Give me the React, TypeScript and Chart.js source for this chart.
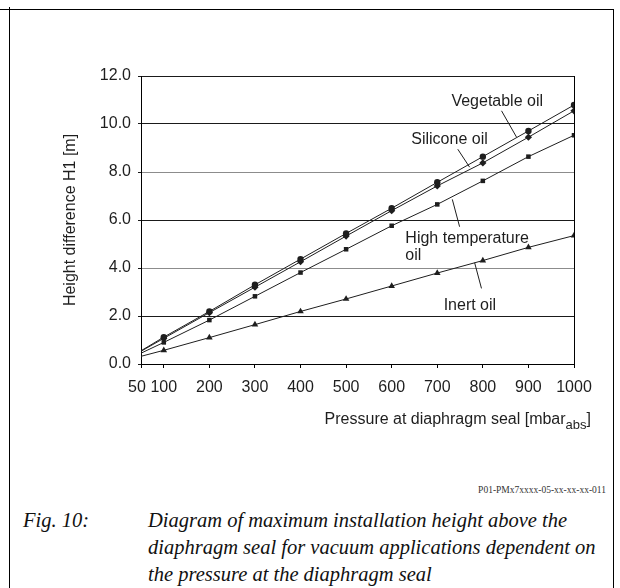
import React, { useEffect, useRef } from "react";
import { Chart, registerables } from "chart.js";

Chart.register(...registerables);

// ---- data ----
const PRESSURE = [50, 100, 200, 300, 400, 500, 600, 700, 800, 900, 1000];
const VEGETABLE_OIL = [0.55, 1.12, 2.19, 3.3, 4.37, 5.44, 6.49, 7.57, 8.64, 9.71, 10.79];
const SILICONE_OIL = [0.53, 1.07, 2.14, 3.2, 4.26, 5.33, 6.39, 7.42, 8.38, 9.45, 10.55];
const HIGH_TEMP_OIL = [0.45, 0.9, 1.83, 2.82, 3.81, 4.78, 5.76, 6.65, 7.63, 8.64, 9.53];
const INERT_OIL = [0.32, 0.57, 1.1, 1.64, 2.19, 2.71, 3.25, 3.79, 4.31, 4.86, 5.35];
const X_TICKS = [50, 100, 200, 300, 400, 500, 600, 700, 800, 900, 1000];
const Y_TICKS = [0, 2, 4, 6, 8, 10, 12];

const Y_TITLE = "Height difference H1 [m]";
const X_TITLE_MAIN = "Pressure at diaphragm seal [mbar";
const X_TITLE_SUB = "abs";
const X_TITLE_END = "]";

// series labels placed in data coordinates
const LABELS = [
  { text: "Vegetable oil", x: 731, y: 10.93 },
  { text: "Silicone oil", x: 643, y: 9.33 },
  { text: "High temperature", x: 630, y: 5.21 },
  { text: "oil", x: 630, y: 4.5 },
  { text: "Inert oil", x: 714, y: 2.42 },
];
const LEADERS = [
  [841, 10.55, 874, 9.45],
  [745, 8.95, 771, 8.2],
  [733, 6.86, 749, 5.72],
  [782, 4.22, 797, 3.15],
];

const SANS = '"Liberation Sans", Arial, Helvetica, sans-serif';
const INK = "#1e1e1e";
const FS = 16;

const toPoints = (ys: number[]) => PRESSURE.map((x, i) => ({ x, y: ys[i] }));

const overlayPlugin = {
  id: "overlay",
  afterDraw(chart: any) {
    const { ctx, chartArea, scales } = chart;
    const xs = scales.x;
    const ys = scales.y;
    ctx.save();
    // right frame of plot
    ctx.strokeStyle = "#000";
    ctx.lineWidth = 1;
    const rx = Math.round(chartArea.right) + 0.5;
    ctx.beginPath();
    ctx.moveTo(rx, chartArea.top);
    ctx.lineTo(rx, chartArea.bottom);
    ctx.stroke();

    // leader lines
    ctx.strokeStyle = INK;
    for (const [x1, y1, x2, y2] of LEADERS) {
      ctx.beginPath();
      ctx.moveTo(xs.getPixelForValue(x1), ys.getPixelForValue(y1));
      ctx.lineTo(xs.getPixelForValue(x2), ys.getPixelForValue(y2));
      ctx.stroke();
    }

    // series labels
    ctx.font = `${FS}px ${SANS}`;
    ctx.fillStyle = INK;
    ctx.textAlign = "left";
    ctx.textBaseline = "middle";
    for (const l of LABELS) {
      ctx.fillText(l.text, xs.getPixelForValue(l.x), ys.getPixelForValue(l.y));
    }

    // x title with subscript, right-aligned
    const mainFont = `${FS}px ${SANS}`;
    const subFont = `13px ${SANS}`;
    ctx.font = mainFont;
    const w1 = ctx.measureText(X_TITLE_MAIN).width;
    const w3 = ctx.measureText(X_TITLE_END).width;
    ctx.font = subFont;
    const w2 = ctx.measureText(X_TITLE_SUB).width;
    const right = chartArea.right + 17;
    const cy = chartArea.bottom + 56;
    let sx = right - (w1 + w2 + w3);
    ctx.font = mainFont;
    ctx.fillText(X_TITLE_MAIN, sx, cy);
    sx += w1;
    ctx.font = subFont;
    ctx.fillText(X_TITLE_SUB, sx, cy + 5);
    sx += w2;
    ctx.font = mainFont;
    ctx.fillText(X_TITLE_END, sx, cy);
    ctx.restore();
  },
};

function HeightChart() {
  const ref = useRef<HTMLCanvasElement | null>(null);
  useEffect(() => {
    if (!ref.current) return;
    const common = {
      borderColor: INK,
      borderWidth: 1,
      pointBackgroundColor: INK,
      pointBorderColor: INK,
      pointBorderWidth: 0,
      tension: 0,
      fill: false,
    };
    const radius = (r: number) => (c: any) => (c.dataIndex === 0 ? 0 : r);
    const chart = new Chart(ref.current, {
      type: "line",
      data: {
        datasets: [
          { ...common, label: "Vegetable oil", data: toPoints(VEGETABLE_OIL), pointStyle: "circle", pointRadius: radius(3.2) },
          { ...common, label: "Silicone oil", data: toPoints(SILICONE_OIL), pointStyle: "rectRot", pointRadius: radius(3.6) },
          { ...common, label: "High temperature oil", data: toPoints(HIGH_TEMP_OIL), pointStyle: "rect", pointRadius: radius(3.2) },
          { ...common, label: "Inert oil", data: toPoints(INERT_OIL), pointStyle: "triangle", pointRadius: radius(3.8) },
        ],
      },
      options: {
        animation: false,
        responsive: false,
        events: [],
        layout: { padding: { left: 0, right: 46, top: 76, bottom: 0 } },
        plugins: { legend: { display: false }, tooltip: { enabled: false } },
        scales: {
          x: {
            type: "linear",
            min: 50,
            max: 1000,
            afterBuildTicks: (s: any) => {
              s.ticks = X_TICKS.map((v) => ({ value: v }));
            },
            afterFit: (s: any) => {
              s.height = 106;
            },
            grid: { drawOnChartArea: false, drawTicks: true, tickLength: 4, color: "#000", tickColor: "#000" },
            border: { display: true, color: "#000", width: 1 },
            ticks: {
              font: { family: SANS, size: FS },
              color: INK,
              padding: 10,
              maxRotation: 0,
              autoSkip: false,
              callback: (v: any) => (Number(v) === X_TICKS[0] ? `${v}\u2002` : String(v)),
            },
          },
          y: {
            type: "linear",
            min: 0,
            max: 12,
            afterBuildTicks: (s: any) => {
              s.ticks = Y_TICKS.map((v) => ({ value: v }));
            },
            afterFit: (s: any) => {
              s.width = 141;
            },
            grid: {
              drawOnChartArea: true,
              drawTicks: true,
              tickLength: 3,
              color: (c: any) => (c.tick && (c.tick.value === 8 || c.tick.value === 4) ? "#8c8c8c" : "#1a1a1a"),
              tickColor: "#1a1a1a",
            },
            border: { display: true, color: "#000", width: 1 },
            ticks: {
              font: { family: SANS, size: FS },
              color: INK,
              padding: 7,
              callback: (v: any) => Number(v).toFixed(1),
            },
            title: {
              display: true,
              text: Y_TITLE,
              font: { family: SANS, size: FS },
              color: INK,
              padding: { top: 61, bottom: 0 },
            },
          },
        },
      },
      plugins: [overlayPlugin],
    } as any);
    return () => chart.destroy();
  }, []);
  return <canvas ref={ref} width={620} height={470} style={{ position: "absolute", left: 0, top: 0 }} />;
}

export default function App() {
  const line = (s: React.CSSProperties) => <div style={{ position: "absolute", background: "#000", ...s }} />;
  const capFont = '"Liberation Serif", "DejaVu Serif", serif';
  const capStyle: React.CSSProperties = {
    position: "absolute",
    top: 507,
    fontFamily: capFont,
    fontStyle: "italic",
    fontSize: 20.5,
    lineHeight: "27px",
    color: "#111",
    whiteSpace: "nowrap",
  };
  return (
    <div style={{ position: "absolute", left: 0, top: 0, width: 620, height: 588, background: "#fff", overflow: "hidden" }}>
      <HeightChart />
      {line({ left: 0, top: 9, width: 614, height: 1 })}
      {line({ left: 9, top: 7, width: 1, height: 581 })}
      {line({ left: 613, top: 9, width: 1, height: 579 })}
      <div
        style={{
          position: "absolute",
          right: 14,
          top: 483,
          fontFamily: '"Liberation Serif", serif',
          fontSize: 9.5,
          lineHeight: "14px",
          color: "#333",
          whiteSpace: "nowrap",
        }}
      >
        P01-PMx7xxxx-05-xx-xx-xx-011
      </div>
      <div style={{ ...capStyle, left: 23 }}>Fig. 10:</div>
      <div style={{ ...capStyle, left: 148 }}>
        Diagram of maximum installation height above the
        <br />
        diaphragm seal for vacuum applications dependent on
        <br />
        the pressure at the diaphragm seal
      </div>
    </div>
  );
}
